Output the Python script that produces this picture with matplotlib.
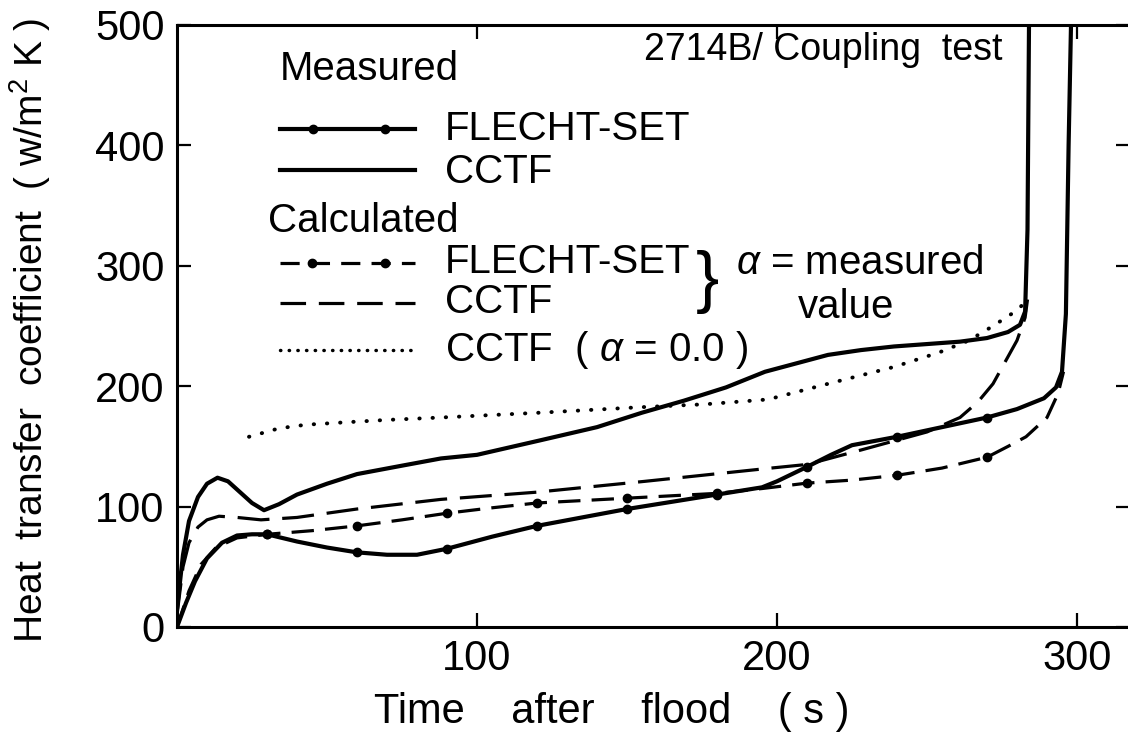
import matplotlib
matplotlib.use("Agg")
import matplotlib.pyplot as plt

# (time s, h W/m2K)
t_meas_cctf = [0, 2, 4, 7, 10, 13.5, 17, 21, 25, 29, 34, 40, 50, 60, 75, 88, 100, 121, 140,
               155, 169, 183, 196, 208, 217, 228, 239, 250, 261, 270, 277, 281, 282.7, 283.5, 284]
h_meas_cctf = [15, 60, 88, 108, 119, 124, 121, 112, 103, 97, 102, 110, 119, 127, 134, 140, 143, 155, 166,
               178, 188, 199, 212, 220, 226, 230, 233, 235, 237, 240, 245, 251, 262, 330, 500]

t_meas_fs = [0, 3, 6, 10, 15, 20, 25, 30, 40, 50, 60, 70, 80, 90, 105, 120, 135, 150, 165, 180,
             195, 200, 205, 210, 218, 225, 240, 255, 270, 280, 289, 293, 295, 296.3, 297.2, 298]
h_meas_fs = [0, 20, 38, 57, 70, 76, 77, 77, 71, 66, 62, 60, 60, 65, 75, 84, 91, 98, 104, 110,
             116, 121, 127, 133, 143, 151, 158, 166, 174, 181, 190, 199, 212, 260, 400, 500]
mk_meas_fs = [30, 60, 90, 120, 150, 180, 210, 240, 270]

t_calc_fs = [0, 4, 8, 13, 20, 30, 45, 60, 75, 90, 105, 120, 135, 150, 165, 180, 195, 210, 225,
             240, 255, 270, 277, 283, 290, 293.7, 295.5]
h_calc_fs = [0, 30, 52, 66, 74, 77, 80, 84, 89, 94.5, 99, 103, 105, 107, 109, 111, 115, 119.5, 122,
             126, 132, 141, 150, 158, 174, 194, 212]
mk_calc_fs = [30, 60, 90, 120, 150, 180, 210, 240, 270]

t_calc_cctf = [0, 2, 4, 7, 10, 14, 20, 28, 40, 60, 88, 120, 156, 198, 210, 228, 250, 261, 267,
               272, 276, 280, 282.7, 283.5]
h_calc_cctf = [10, 50, 70, 83, 89, 92, 91, 89, 91, 98, 106, 112, 121, 132, 135, 147, 162, 174, 187,
               202, 220, 238, 257, 272]

t_calc_a0 = [24, 34, 43, 56, 70, 88, 121, 154, 176, 197, 217, 239, 254, 264, 272, 280, 282]
h_calc_a0 = [158, 165, 168, 170, 172, 174, 178, 182.5, 185, 189, 202, 216, 228, 238, 250, 263, 268]

xticks = [100, 200, 300]
yticks = [0, 100, 200, 300, 400, 500]

plt.rcParams['font.family'] = ['Liberation Sans', 'DejaVu Sans']
plt.rcParams['mathtext.fontset'] = 'custom'
plt.rcParams['mathtext.it'] = 'Liberation Sans:italic'
plt.rcParams['mathtext.rm'] = 'Liberation Sans'

fig = plt.figure(figsize=(11.28, 7.37), dpi=100)
ax = fig.add_axes([177 / 1128, 110 / 737, 953 / 1128, 602 / 737])
ax.set_xlim(0, 953 / 3.0)
ax.set_ylim(0, 500)

lw_solid = 3.0
ax.plot(t_meas_cctf, h_meas_cctf, color='black', lw=lw_solid, solid_capstyle='round')
ax.plot(t_meas_fs, h_meas_fs, color='black', lw=lw_solid, marker='o', ms=6,
        markevery=[t_meas_fs.index(v) for v in mk_meas_fs])
ax.plot(t_calc_fs, h_calc_fs, color='black', lw=2.3, ls=(0, (7, 3.5)), marker='o', ms=6,
        markevery=[t_calc_fs.index(v) for v in mk_calc_fs])
ax.plot(t_calc_cctf, h_calc_cctf, color='black', lw=2.3, ls=(0, (10, 4)))
ax.plot(t_calc_a0, h_calc_a0, color='black', lw=2.8, ls=(0, (0.1, 3.3)), dash_capstyle='round')


# legend block drawn by hand, like the original
def px(x, y):
    return (x - 177) / 3.0, (627 - y) / 1.205


fs_txt = 29


def txt(x, y, s, **kw):
    xx, yy = px(x, y)
    ax.text(xx, yy, s, fontsize=kw.pop('size', fs_txt), va='center', **kw)


def sample(y, **kw):
    x0, yy = px(280, y)
    x1, _ = px(415, y)
    ax.plot([x0, x1], [yy, yy], color='black', **kw)


txt(280, 69, 'Measured')
sample(129, lw=lw_solid)
ax.plot([px(313, 0)[0], px(385, 0)[0]], [px(0, 129)[1]] * 2, 'o', color='black', ms=6)
txt(445, 129, 'FLECHT-SET')
sample(170, lw=lw_solid)
txt(445, 172, 'CCTF')
txt(268, 221, 'Calculated')
sample(263, lw=2.3, ls=(0, (6, 3.5)))
ax.plot([px(312, 0)[0], px(385, 0)[0]], [px(0, 263)[1]] * 2, 'o', color='black', ms=6)
txt(445, 262, 'FLECHT-SET')
sample(303, lw=2.3, ls=(0, (8, 4)))
txt(445, 302, 'CCTF')
sample(350, lw=2.5, ls=(0, (0.1, 2.4)), dash_capstyle='round')
txt(445, 350, 'CCTF  ( $\\alpha$ = 0.0 )')
txt(696, 282, '}', size=50)
txt(736, 263, '$\\alpha$ = measured')
txt(846, 307, 'value', ha='center')
txt(1003, 50, '2714B/ Coupling  test', ha='right', size=27)

for side in ['left', 'top', 'bottom']:
    ax.spines[side].set_linewidth(2.2)
ax.spines['right'].set_visible(False)

ax.set_xticks(xticks)
ax.set_yticks(yticks)
ax.tick_params(direction='in', length=10, width=1.6, top=True, right=True,
               labelsize=30, pad=9)

fig.text(612 / 1128, 1 - 712 / 737, 'Time    after    flood    ( s )',
         ha='center', va='center', fontsize=30)
fig.text(30 / 1128, 1 - 330 / 737, 'Heat  transfer  coefficient  ( w/m$^2$ K )',
         rotation=90, ha='center', va='center', fontsize=28)

fig.savefig('out.png', dpi=100)
